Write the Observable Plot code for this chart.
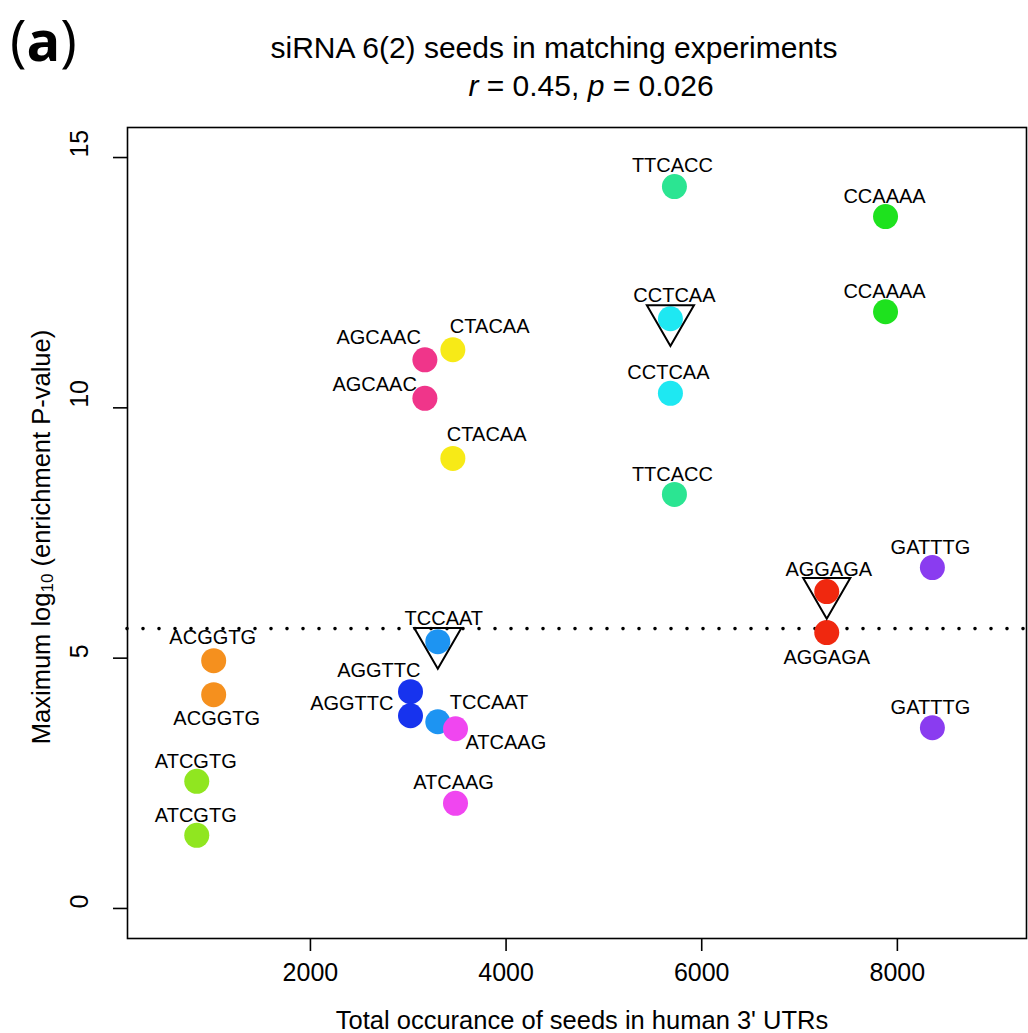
<!DOCTYPE html>
<html>
<head>
<meta charset="utf-8">
<script src="https://cdn.jsdelivr.net/npm/d3@7"></script>
<script src="https://cdn.jsdelivr.net/npm/@observablehq/plot@0.6"></script>
<style>
  body { margin: 0; background: #fff; }
  #wrap { position: relative; width: 1028px; height: 1033px; font-family: "Liberation Sans", Arial, Helvetica, sans-serif; color: #000; }
  .abs { position: absolute; white-space: nowrap; }
</style>
</head>
<body>
<div id="wrap">
  <div class="abs" id="panel" style="left:10px; top:0px; font-family:'Open Sans', sans-serif; font-size:56px; line-height:1.4;">(<b>a</b>)</div>
  <div class="abs" id="t1" style="left:554px; top:48px; transform:translate(-50%,-50%); font-size:30px;">siRNA 6(2) seeds in matching experiments</div>
  <div class="abs" id="t2" style="left:591px; top:86px; transform:translate(-50%,-50%); font-size:30px;"><i>r</i> = 0.45, <i>p</i> = 0.026</div>
  <div class="abs" id="xl" style="left:582px; top:1020px; transform:translate(-50%,-50%); font-size:25.5px;">Total occurance of seeds in human 3' UTRs</div>
  <div class="abs" id="yl" style="left:42px; top:537px; transform:translate(-50%,-50%) rotate(-90deg); font-size:25.5px;">Maximum log<sub style="font-size:17px; vertical-align:-3px;">10</sub> (enrichment P-value)</div>
</div>
<script>
// ---- data ----
const seeds = ["TTCACC","TTCACC","CCAAAA","CCAAAA","CCTCAA","CCTCAA","AGCAAC","AGCAAC",
  "CTACAA","CTACAA","GATTTG","GATTTG","AGGAGA","AGGAGA","TCCAAT","TCCAAT",
  "AGGTTC","AGGTTC","ATCAAG","ATCAAG","ACGGTG","ACGGTG","ATCGTG","ATCGTG"];
const occurrence = [5721,5721,7879,7879,5680,5680,3170,3170,
  3456,3456,8358,8358,7278,7278,3302,3302,
  3023,3023,3483,3483,1011,1011,838,838];
const maxLogP = [14.42,8.27,13.82,11.92,11.78,10.29,10.96,10.19,
  11.16,8.99,6.81,3.61,6.33,5.51,5.33,3.73,
  4.33,3.85,3.59,2.10,4.95,4.27,2.54,1.46];
const matched = [false,false,false,false,true,false,false,false,
  false,false,false,false,true,false,true,false,
  false,false,false,false,false,false,false,false];
const threshold = 5.59;
const seedNames = ["AGGAGA","ACGGTG","CTACAA","ATCGTG","CCAAAA","TTCACC","CCTCAA","TCCAAT","AGGTTC","GATTTG","ATCAAG","AGCAAC"];
const seedColors = ["#f0280f","#f5901e","#f7ea17","#90e620","#1ee21e","#2be592","#1ee8f2","#1d94f2","#1733ee","#8a3cf0","#f046f0","#f0358a"];
const xTicks = [2000, 4000, 6000, 8000];
const yTicks = [0, 5, 10, 15];

// ---- label layout (anchor, dx, dy in px) ----
const labelLayout = [
  ["middle",-2,-21],["middle",-2,-20],["middle",-1,-20],["middle",-1,-20],
  ["middle",4,-23],["middle",-2,-21],["end",-4,-22],["end",-8,-14],
  ["start",-3,-23],["start",-6,-24],["middle",-2,-20],["middle",-2,-20],
  ["middle",2,-22],["middle",0,25],["middle",6,-23],["start",12,-19],
  ["end",10,-21],["end",-17,-12],["start",10,14],["middle",-2,-21],
  ["middle",-1,-23],["middle",3,24],["middle",-1,-20],["middle",-1,-20]
];

const idx = d3.range(seeds.length);
const labelMarks = idx.map(i => Plot.text([i], {
  x: j => occurrence[j], y: j => maxLogP[j], text: j => seeds[j],
  textAnchor: labelLayout[i][0], dx: labelLayout[i][1], dy: labelLayout[i][2],
  fontSize: 20, fill: "black"
}));

const chart = Plot.plot({
  width: 1028, height: 1033,
  marginLeft: 127, marginRight: 2, marginTop: 127, marginBottom: 95,
  style: { fontFamily: "'Liberation Sans', Arial, Helvetica, sans-serif", background: "transparent", overflow: "visible" },
  x: { domain: [130, 9320] },
  y: { domain: [-0.6, 15.6] },
  color: { domain: seedNames, range: seedColors },
  marks: [
    Plot.ruleY([threshold], { stroke: "black", strokeWidth: 3.6, strokeDasharray: "0 16", strokeLinecap: "round" }),
    Plot.dot(idx, { x: i => occurrence[i], y: i => maxLogP[i], fill: i => seeds[i], r: 12.5 }),
    Plot.dot(idx.filter(i => matched[i]), { x: i => occurrence[i], y: i => maxLogP[i], symbol: "triangle", r: 17.5, rotate: 180, stroke: "black", strokeWidth: 2, fill: "none" }),
    ...labelMarks,
    Plot.frame({ stroke: "black", strokeWidth: 1.6 }),
    Plot.axisX({ ticks: xTicks, tickSize: 13, tickPadding: 12, tickFormat: d => String(d), fontSize: 25, label: null, strokeWidth: 1.6 }),
    Plot.axisY({ ticks: yTicks, tickSize: 14, tickFormat: () => "", label: null, strokeWidth: 1.6 }),
    Plot.text(yTicks, { y: d => d, text: d => String(d), frameAnchor: "left", dx: -48, rotate: -90, fontSize: 25 })
  ]
});
chart.style.position = "absolute";
chart.style.left = "0px";
chart.style.top = "0px";
document.getElementById("wrap").prepend(chart);
</script>
</body>
</html>
